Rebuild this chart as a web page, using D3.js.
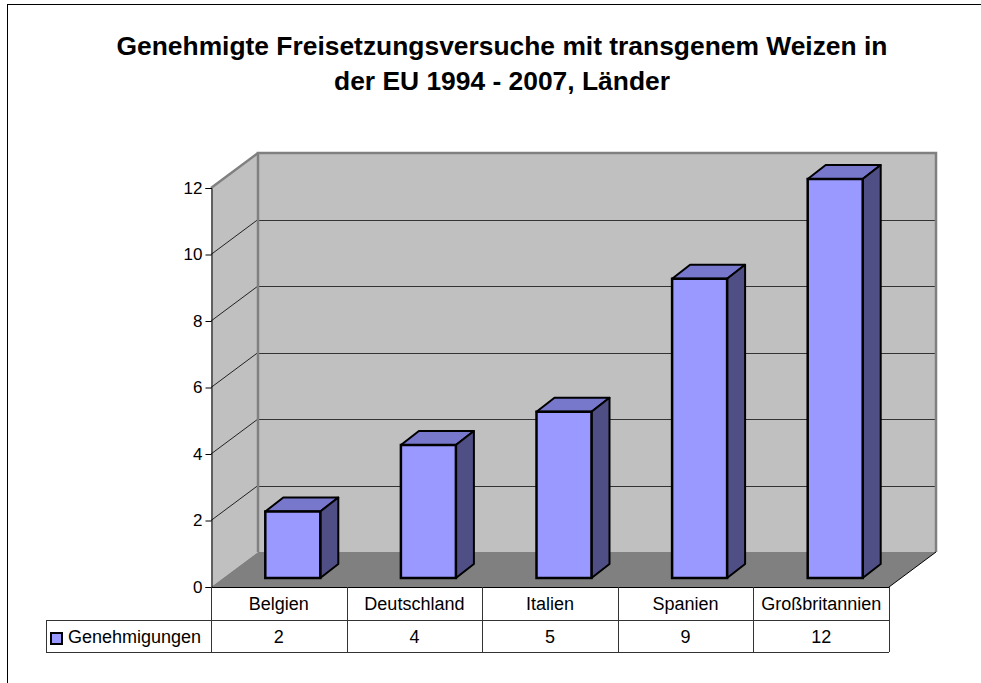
<html lang="de">
<head>
<meta charset="UTF-8">
<title>Freisetzungsversuche Weizen</title>
<script src="https://d3js.org/d3.v7.min.js"></script>
<style>
  body { margin: 0; background: #fff; }
  text { font-family: "Liberation Sans", Arial, sans-serif; fill: #000; }
</style>
</head>
<body>
<svg width="981" height="683"></svg>
<script>
var categories = ["Belgien", "Deutschland", "Italien", "Spanien", "Großbritannien"];
var values = [2, 4, 5, 9, 12];
var seriesName = "Genehmigungen";
var yTicks = [0, 2, 4, 6, 8, 10, 12];
var titleLines = ["Genehmigte Freisetzungsversuche mit transgenem Weizen in", "der EU 1994 - 2007, Länder"];

var svg = d3.select("svg");

// depth of the 3d box and of the bars
var DX = 47, DY = -35;
var barOff = {x: 14, y: -9}, barDepth = {x: 18, y: -14}, barW = 55;

var x = d3.scaleBand().domain(categories).range([211, 889]);
var y = d3.scaleLinear().domain([0, 12]).range([587, 188]);

// outer frame
svg.append("rect")
    .attr("x", 7.5).attr("y", 4.5).attr("width", 1000).attr("height", 700)
    .attr("fill", "none").attr("stroke", "#000");

// title
svg.append("g").selectAll("text")
    .data(titleLines)
    .enter().append("text")
    .attr("x", 502)
    .attr("y", function (d, i) { return 55 + i * 35; })
    .attr("text-anchor", "middle")
    .attr("font-size", 26.4)
    .attr("font-weight", "bold")
    .text(function (d) { return d; });

var x0 = x.range()[0], x1 = x.range()[1], y0 = y(0), yTop = y(12);

// back wall
svg.append("rect")
    .attr("x", x0 + DX).attr("y", yTop + DY)
    .attr("width", x1 - x0).attr("height", y0 - yTop)
    .attr("fill", "#c0c0c0");

// side wall
svg.append("polygon")
    .attr("points", [[x0, y0], [x0, yTop], [x0 + DX, yTop + DY], [x0 + DX, y0 + DY]].join(" "))
    .attr("fill", "#c0c0c0");

// floor
svg.append("polygon")
    .attr("points", [[x0, y0], [x0 + DX, y0 + DY], [x1 + DX, y0 + DY], [x1, y0]].join(" "))
    .attr("fill", "#808080");

// grid lines on back and side wall
var grid = yTicks.filter(function (d) { return d > 0 && d < 12; });
svg.append("g").selectAll("line")
    .data(grid)
    .enter().append("line")
    .attr("x1", x0 + DX).attr("x2", x1 + DX)
    .attr("y1", function (d) { return Math.round(y(d) + DY) + 0.5; })
    .attr("y2", function (d) { return Math.round(y(d) + DY) + 0.5; })
    .attr("stroke", "#333");
svg.append("g").selectAll("line")
    .data(yTicks.filter(function (d) { return d > 0; }))
    .enter().append("line")
    .attr("x1", x0).attr("x2", x0 + DX)
    .attr("y1", function (d) { return y(d); })
    .attr("y2", function (d) { return y(d) + DY; })
    .attr("stroke", function (d) { return d === 12 ? "#808080" : "#222"; })
    .attr("stroke-width", function (d) { return d === 12 ? 2.5 : 1; });

// wall edges
svg.append("path")
    .attr("d", "M" + (x0 + DX) + "," + (y0 + DY) + "V" + (yTop + DY) + "H" + (x1 + DX) + "V" + (y0 + DY))
    .attr("fill", "none").attr("stroke", "#808080").attr("stroke-width", 2.5);
svg.append("line")
    .attr("x1", x1).attr("y1", y0).attr("x2", x1 + DX).attr("y2", y0 + DY)
    .attr("stroke", "#000");

// bars
var bars = svg.append("g").selectAll("g")
    .data(values)
    .enter().append("g");

function bx(i) { return x(categories[i]) + (x.bandwidth() - barW) / 2 + barOff.x; }
function by(v) { return y(v) + barOff.y; }

bars.append("polygon")
    .attr("points", function (d, i) {
        var l = bx(i), t = by(d);
        return [[l, t], [l + barDepth.x, t + barDepth.y], [l + barW + barDepth.x, t + barDepth.y], [l + barW, t]].join(" ");
    })
    .attr("fill", "#7777cc").attr("stroke", "#000").attr("stroke-width", 2).attr("stroke-linejoin", "round");
bars.append("polygon")
    .attr("points", function (d, i) {
        var r = bx(i) + barW, t = by(d), b = by(0);
        return [[r, t], [r + barDepth.x, t + barDepth.y], [r + barDepth.x, b + barDepth.y], [r, b]].join(" ");
    })
    .attr("fill", "#4f4f85").attr("stroke", "#000").attr("stroke-width", 2).attr("stroke-linejoin", "round");
bars.append("rect")
    .attr("x", function (d, i) { return bx(i); })
    .attr("y", function (d) { return by(d); })
    .attr("width", barW)
    .attr("height", function (d) { return by(0) - by(d); })
    .attr("fill", "#9999ff").attr("stroke", "#000").attr("stroke-width", 2.5);

// y axis
var yAxis = svg.append("g")
    .attr("transform", "translate(" + (x0 + 0.5) + ",0)")
    .call(d3.axisLeft(y).tickValues(yTicks).tickSize(6).tickPadding(3).tickFormat(d3.format("d")));
yAxis.selectAll("text").attr("font-size", 17).style("font-family", "'Liberation Sans', Arial, sans-serif");
yAxis.select(".domain").attr("stroke", "#000");

// data table
var rowH = [587, 620, 652];
var table = svg.append("g").attr("stroke", "#333").attr("fill", "none");
table.append("line").attr("x1", x0).attr("x2", x1).attr("y1", rowH[0] + 0.5).attr("y2", rowH[0] + 0.5).attr("stroke", "#000");
table.append("line").attr("x1", 46).attr("x2", x1).attr("y1", rowH[1] + 0.5).attr("y2", rowH[1] + 0.5);
table.append("line").attr("x1", 46).attr("x2", x1).attr("y1", rowH[2] + 0.5).attr("y2", rowH[2] + 0.5);
table.append("line").attr("x1", 46.5).attr("x2", 46.5).attr("y1", rowH[1]).attr("y2", rowH[2]);
table.selectAll(".col")
    .data(categories.concat(["end"]))
    .enter().append("line")
    .attr("x1", function (d, i) { return Math.round(i < categories.length ? x(d) : x1) + 0.5; })
    .attr("x2", function (d, i) { return Math.round(i < categories.length ? x(d) : x1) + 0.5; })
    .attr("y1", rowH[0]).attr("y2", rowH[2]);

svg.append("g").selectAll("text")
    .data(categories)
    .enter().append("text")
    .attr("x", function (d) { return x(d) + x.bandwidth() / 2; })
    .attr("y", 610)
    .attr("text-anchor", "middle")
    .attr("font-size", 18)
    .text(function (d) { return d; });
svg.append("g").selectAll("text")
    .data(values)
    .enter().append("text")
    .attr("x", function (d, i) { return x(categories[i]) + x.bandwidth() / 2; })
    .attr("y", 643)
    .attr("text-anchor", "middle")
    .attr("font-size", 18)
    .text(function (d) { return d; });

// legend key in table
svg.append("rect")
    .attr("x", 51).attr("y", 633).attr("width", 11).attr("height", 11)
    .attr("fill", "#9999ff").attr("stroke", "#000").attr("stroke-width", 2);
svg.append("text")
    .attr("x", 68).attr("y", 643)
    .attr("font-size", 18)
    .text(seriesName);
</script>
</body>
</html>
